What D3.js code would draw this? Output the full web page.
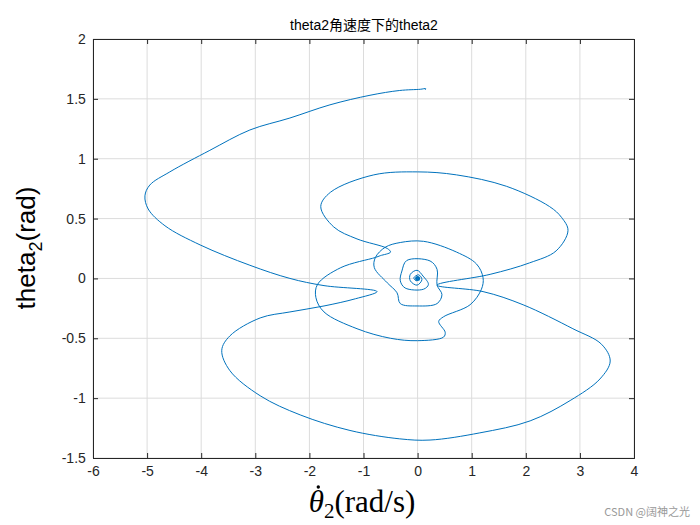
<!DOCTYPE html>
<html><head><meta charset="utf-8"><script src="https://d3js.org/d3.v7.min.js"></script>
<style>body{margin:0;background:#fff}</style></head><body>
<svg id="c" width="700" height="525"></svg>
<script>
const xTicks=[-6,-5,-4,-3,-2,-1,0,1,2,3,4];
const yTicks=[-1.5,-1,-0.5,0,0.5,1,1.5,2];
const omega=[0.14,0.15,0.05,-0.33,-0.88,-1.62,-2.36,-3.1,-3.84,-4.58,-4.95,-5.04,-4.98,-4.67,-4.02,-3.1,-2.36,-1.73,-0.75,-1.15,-1.73,-2.36,-2.91,-3.47,-3.62,-3.47,-2.91,-2.17,-1.25,-0.33,0.23,1.15,2.08,2.82,3.37,3.56,3.4,2.87,1.95,1.21,0.36,1.34,2.07,2.56,2.78,2.66,2.44,1.64,0.72,0,-0.81,-1.61,-1.79,-1.55,-1.12,-0.56,-0.5,-0.69,-0.78,-1.42,-1.85,-1.88,-1.73,-1.12,-0.5,0,0.48,0.51,0.39,0.48,0.97,1.18,1.21,1.09,0.72,0.11,-0.32,-0.6,-0.78,-0.8,-0.56,-0.38,-0.32,-0.01,0.36,0.45,0.36,0.36,0.23,-0.2,-0.29,-0.32,-0.23,0.11,0.2,0.1,-0.01,-0.135,-0.135,-0.01,0.08,0.02,-0.07,-0.025,0.025,0,-0.01,0.01,0];
const theta=[1.575,1.585,1.58,1.57,1.53,1.45,1.34,1.24,1.07,0.89,0.78,0.69,0.58,0.44,0.28,0.11,0.0,-0.06,-0.11,-0.17,-0.23,-0.28,-0.33,-0.48,-0.6,-0.77,-0.98,-1.14,-1.27,-1.34,-1.35,-1.29,-1.19,-1.02,-0.84,-0.69,-0.55,-0.42,-0.22,-0.11,-0.056,0.034,0.13,0.23,0.4,0.51,0.6,0.77,0.865,0.89,0.865,0.72,0.6,0.43,0.33,0.25,0.22,0.19,0.175,0.09,-0.05,-0.16,-0.28,-0.42,-0.5,-0.52,-0.49,-0.45,-0.36,-0.32,-0.22,-0.09,0.006,0.12,0.22,0.31,0.3,0.26,0.175,0.09,-0.037,-0.12,-0.21,-0.23,-0.21,-0.135,-0.056,0.076,0.146,0.15,0.062,-0.02,-0.08,-0.09,-0.05,0.02,0.068,0.034,-0.02,-0.056,-0.01,0.03,0.005,-0.02,0,0.01,-0.005,0,0];
const svg=d3.select("#c");
const L=93,R=634,T=39,B=458;
const x=d3.scaleLinear().domain([-6,4]).range([L,R]);
const y=d3.scaleLinear().domain([-1.5,2]).range([B,T]);
const g=svg.append("g");
xTicks.forEach(t=>g.append("line").attr("x1",x(t)).attr("x2",x(t)).attr("y1",T).attr("y2",B).attr("stroke","#dcdcdc"));
yTicks.forEach(t=>g.append("line").attr("y1",y(t)).attr("y2",y(t)).attr("x1",L).attr("x2",R).attr("stroke","#dcdcdc"));
const pts=omega.map((o,i)=>[o,theta[i]]);
g.append("path").attr("d",d3.line().x(d=>x(d[0])).y(d=>y(d[1])).curve(d3.curveCatmullRom)(pts)).attr("fill","none").attr("stroke","#0072BD").attr("stroke-width",1);
g.append("circle").attr("cx",x(0)).attr("cy",y(0)).attr("r",2.5).attr("fill","#0072BD");
const fmt=d=>String(d);
const ax=svg.append("g").attr("transform",`translate(0,${B})`).call(d3.axisBottom(x).tickValues(xTicks).tickSize(-5).tickFormat(fmt));
const axT=svg.append("g").attr("transform",`translate(0,${T})`).call(d3.axisTop(x).tickValues(xTicks).tickSize(-5).tickFormat(""));
const ay=svg.append("g").attr("transform",`translate(${L},0)`).call(d3.axisLeft(y).tickValues(yTicks).tickSize(-5).tickFormat(fmt));
const ayR=svg.append("g").attr("transform",`translate(${R},0)`).call(d3.axisRight(y).tickValues(yTicks).tickSize(-5).tickFormat(""));
[ax,axT,ay,ayR].forEach(a=>{a.selectAll("path,line").attr("stroke","#262626");a.selectAll("text").attr("font-family","Arial, Liberation Sans").attr("font-size",14).attr("fill","#262626");});
ax.selectAll("text").attr("dy","1.1em");ay.selectAll("text").attr("dx","-0.3em");
svg.append("text").attr("x",364).attr("y",30).attr("text-anchor","middle").attr("font-family","Liberation Sans, Noto Sans CJK SC").attr("font-size",14).attr("fill","#000").text("theta2角速度下的theta2");
const yl=svg.append("text").attr("transform","translate(35,248) rotate(-90)").attr("text-anchor","middle").attr("font-family","Liberation Sans, Arial").attr("font-size",26).attr("fill","#000");
yl.append("tspan").text("theta");yl.append("tspan").attr("font-size",18).attr("dy",7).text("2");yl.append("tspan").attr("dy",-7).text("(rad)");
const xl=svg.append("text").attr("x",362).attr("y",512).attr("text-anchor","middle").attr("font-family","Liberation Serif, DejaVu Serif").attr("font-size",31).attr("fill","#000");
const th=xl.append("tspan").attr("font-style","italic").text("θ");xl.append("tspan").attr("font-size",21).attr("dy",6).text("2");xl.append("tspan").attr("dy",-6).text("(rad/s)");
const bb=th.node().getBBox();
svg.append("circle").attr("cx",bb.x+bb.width/2+2).attr("cy",bb.y+3).attr("r",1.7).attr("fill","#000");
svg.append("text").attr("x",690).attr("y",516).attr("text-anchor","end").attr("font-family","Noto Sans CJK SC").attr("font-size",11).attr("fill","#999").text("CSDN @阔神之光");
</script></body></html>
